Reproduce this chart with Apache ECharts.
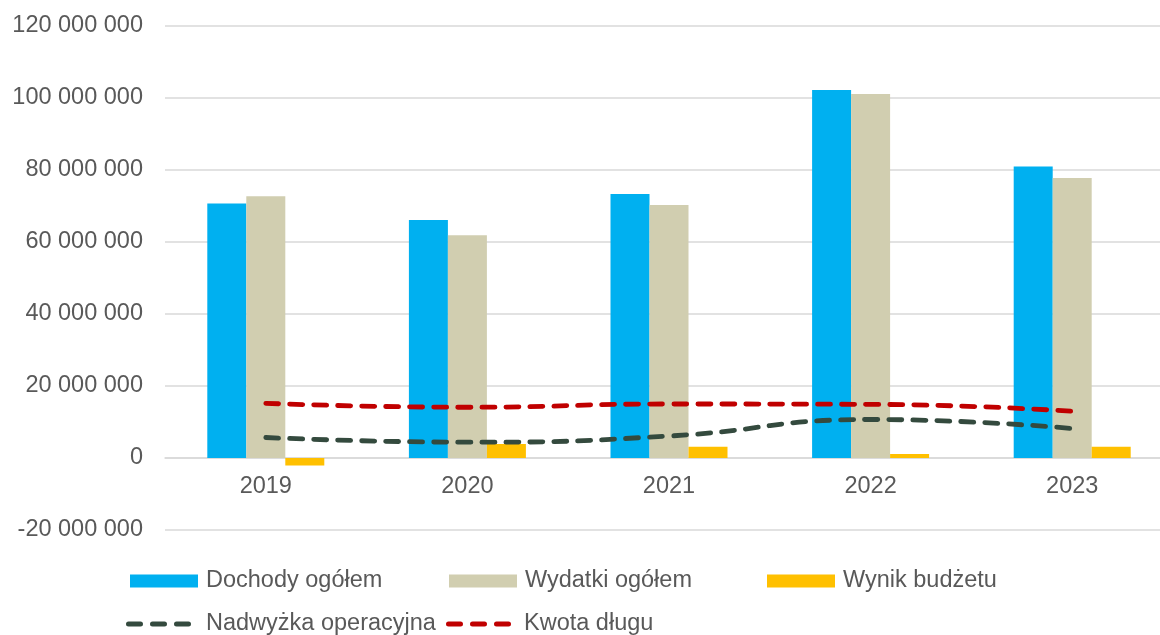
<!DOCTYPE html>
<html>
<head>
<meta charset="utf-8">
<script src="https://cdn.jsdelivr.net/npm/echarts@6/dist/echarts.min.js"></script>
<style>
html,body{margin:0;padding:0;background:#fff;overflow:hidden;width:1160px;height:635px;}
#chart{width:1180px;height:635px;}
</style>
</head>
<body>
<div id="chart"></div>
<script>
var categories = ['2019', '2020', '2021', '2022', '2023'];
var dochody = [70700000, 66100000, 73300000, 102200000, 81000000];
var wydatki = [72700000, 61900000, 70300000, 101100000, 77800000];
var wynik = [-2100000, 3900000, 3100000, 1100000, 3100000];
var nadwyzka = [5700000, 4400000, 6100000, 10700000, 8200000];
var kwotaDlugu = [15200000, 14100000, 15000000, 14900000, 13000000];
var seriesNames = ['Dochody ogółem', 'Wydatki ogółem', 'Wynik budżetu', 'Nadwyżka operacyjna', 'Kwota długu'];

var FONT = 'Liberation Sans, Arial, sans-serif';
var TXT = '#595959';
var FS = 23.5;
var DARK = '#344A3E';
var RED = '#C00000';
var DASH_ICON = 'path://M2.5,0 H14.5 A2.5,2.5 0 0 1 14.5,5 H2.5 A2.5,2.5 0 0 1 2.5,0 Z ' +
  'M26.5,0 H38.5 A2.5,2.5 0 0 1 38.5,5 H26.5 A2.5,2.5 0 0 1 26.5,0 Z ' +
  'M50.5,0 H62.5 A2.5,2.5 0 0 1 62.5,5 H50.5 A2.5,2.5 0 0 1 50.5,0 Z';

function fmt(v) {
  return String(v).replace(/\B(?=(\d{3})+(?!\d))/g, ' ');
}

function legendBox(item, left, top, w, h, padLeft) {
  return {
    data: [item],
    left: left,
    top: top,
    padding: 0,
    itemWidth: w,
    itemHeight: h,
    selectedMode: false,
    textStyle: { color: TXT, fontSize: FS, fontFamily: FONT, padding: [0, 0, 0, padLeft] }
  };
}

var chart = echarts.init(document.getElementById('chart'), null, { renderer: 'canvas' });
chart.setOption({
  animation: false,
  backgroundColor: '#ffffff',
  grid: { left: 165, top: 26, right: 7, height: 504, containLabel: false },
  legend: [
    legendBox({ name: seriesNames[0], icon: 'rect' }, 130, 569, 68, 13, 3),
    legendBox({ name: seriesNames[1], icon: 'rect' }, 449, 569, 68, 13, 3),
    legendBox({ name: seriesNames[2], icon: 'rect' }, 767, 569, 68, 13, 3),
    legendBox({ name: seriesNames[3], icon: DASH_ICON, itemStyle: { color: DARK, borderWidth: 0 } }, 126, 612, 65, 5, 10),
    legendBox({ name: seriesNames[4], icon: DASH_ICON, itemStyle: { color: RED, borderWidth: 0 } }, 446, 612, 65, 5, 8)
  ],
  xAxis: {
    type: 'category',
    data: categories,
    boundaryGap: true,
    offset: -72,
    axisLine: { show: true, onZero: false, lineStyle: { color: '#D9D9D9', width: 1.5 } },
    axisTick: { show: false },
    axisLabel: { color: TXT, fontSize: FS, fontFamily: FONT, margin: 17 },
    splitLine: { show: false }
  },
  yAxis: {
    type: 'value',
    min: -20000000,
    max: 120000000,
    interval: 20000000,
    axisLine: { show: false },
    axisTick: { show: false },
    axisLabel: { color: TXT, fontSize: FS, fontFamily: FONT, margin: 22, formatter: fmt },
    splitLine: { show: true, lineStyle: { color: '#D9D9D9', width: 1.5 } }
  },
  series: [
    { name: seriesNames[0], type: 'bar', data: dochody, barWidth: 39, barGap: '0%', itemStyle: { color: '#00B0F0' } },
    { name: seriesNames[1], type: 'bar', data: wydatki, barWidth: 39, barGap: '0%', itemStyle: { color: '#D1CEB0' } },
    { name: seriesNames[2], type: 'bar', data: wynik, barWidth: 39, barGap: '0%', itemStyle: { color: '#FFC000' } },
    { name: seriesNames[3], type: 'line', data: nadwyzka, smooth: true, symbol: 'none', z: 5,
      itemStyle: { color: DARK },
      lineStyle: { color: DARK, width: 4.8, type: [13, 11], cap: 'round' } },
    { name: seriesNames[4], type: 'line', data: kwotaDlugu, smooth: true, symbol: 'none', z: 5,
      itemStyle: { color: RED },
      lineStyle: { color: RED, width: 4.8, type: [13, 11], cap: 'round' } }
  ]
});
</script>
</body>
</html>
